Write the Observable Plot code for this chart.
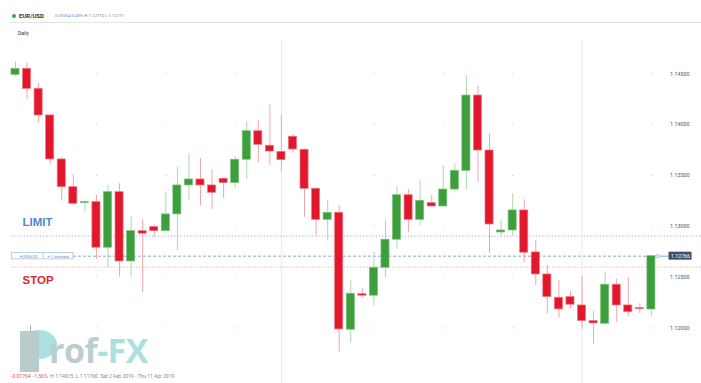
<!DOCTYPE html>
<html><head><meta charset="utf-8">
<script src="https://cdn.jsdelivr.net/npm/d3@7"></script>
<script src="https://cdn.jsdelivr.net/npm/@observablehq/plot@0.6"></script>
<style>
html,body{margin:0;padding:0;background:#fff;}
#wrap{position:relative;width:701px;height:383px;overflow:hidden;font-family:Roboto,"Open Sans",sans-serif;}
#chart{position:absolute;left:0;top:0;}
.abs{position:absolute;white-space:nowrap;line-height:1;}
</style></head><body>
<div id="wrap">
  <div id="wm">
    <div class="abs" style="left:21px;top:330px;width:36px;height:29px;border-radius:50%;background:#abdfe0;"></div>
    <div class="abs" style="left:20px;top:331px;width:19px;height:41px;background:#b9cbcd;"></div>
    <div class="abs" style="left:30px;top:325px;width:1px;height:7px;background:#9fb3b7;"></div>
    <div class="abs" style="left:49px;top:333px;font-family:'Open Sans',sans-serif;font-weight:bold;font-size:34px;letter-spacing:-0.5px;"><span style="color:#bccdcf">rof</span><span style="color:#abdfe0">-FX</span></div>
  </div>
  <div id="chart"></div>
  <div class="abs" style="left:12px;top:14px;width:4px;height:4px;border-radius:50%;background:#3aa53a"></div>
  <div class="abs" style="left:19px;top:13px;font-size:6px;font-weight:bold;color:#333">EUR/USD</div>
  <div class="abs" style="left:55px;top:14px;font-size:4.3px;"><span style="color:#5b8fd0">0.00554</span>&nbsp;<span style="color:#5b8fd0">0.49%</span>&nbsp;<span style="color:#777">H 1.12710 L 1.12111</span></div>
  <div class="abs" style="left:10px;top:22px;width:691px;height:1px;background:#e3e3e3"></div>
  <div class="abs" style="left:18px;top:31px;font-size:5px;color:#333">Daily</div>
  <div class="abs" style="left:11px;top:374px;font-size:5px;"><span style="color:#e0505a">-0.01764&nbsp;&nbsp;-1.56%</span>&nbsp;&nbsp;<span style="color:#888">H 1.14615&nbsp;&nbsp;L 1.11760&nbsp;&nbsp;Sat 2 Feb 2019 - Thu 11 Apr 2019</span></div>
</div>
<script>
// ---- data (EUR/USD daily candles) ----
const opens  = [1.14490,1.14549,1.14352,1.14090,1.13657,1.13384,1.13227,1.13237,1.12788,1.13335,
                1.12653,1.12951,1.12991,1.12951,1.13116,1.13401,1.13460,1.13401,1.13467,1.13424,
                1.13654,1.13935,1.13792,1.13732,1.13880,1.13752,1.13368,1.13063,1.13132,1.11981,
                1.12331,1.12316,1.12591,1.12867,1.13305,1.13063,1.13227,1.13194,1.13361,1.13545,
                1.14286,1.13745,1.12938,1.12958,1.13155,1.12742,1.12525,1.12296,1.12302,1.12220,
                1.12066,1.12040,1.12424,1.12220,1.12194,1.12180];
const highs  = [1.14615,1.14604,1.14408,1.14097,1.13679,1.13509,1.13260,1.13302,1.13401,1.13418,
                1.13096,1.13063,1.13014,1.13335,1.13581,1.13713,1.13664,1.13555,1.13473,1.13686,
                1.14031,1.14040,1.14198,1.14090,1.13903,1.13760,1.13384,1.13253,1.13204,1.12466,
                1.12384,1.12745,1.13056,1.13391,1.13361,1.13450,1.13302,1.13591,1.13614,1.14483,
                1.14378,1.13910,1.13056,1.13319,1.13260,1.12860,1.12614,1.12466,1.12358,1.12505,
                1.12164,1.12548,1.12479,1.12493,1.12237,1.12710];
const lows   = [1.14473,1.14244,1.14014,1.13608,1.13246,1.13204,1.13138,1.12673,1.12587,1.12499,
                1.12499,1.12345,1.12892,1.12945,1.12761,1.13246,1.13204,1.13162,1.13270,1.13371,
                1.13457,1.13624,1.13598,1.13539,1.13719,1.13089,1.12899,1.12853,1.11760,1.11849,
                1.12296,1.12213,1.12493,1.12774,1.12941,1.13000,1.13190,1.13190,1.13335,1.13359,
                1.13427,1.12735,1.12892,1.12899,1.12640,1.12414,1.12138,1.12099,1.12188,1.11987,
                1.11836,1.12030,1.12056,1.12105,1.12138,1.12111];
const closes = [1.14549,1.14352,1.14090,1.13657,1.13384,1.13221,1.13237,1.12788,1.13335,1.12653,
                1.12951,1.12926,1.12951,1.13116,1.13401,1.13460,1.13401,1.13329,1.13424,1.13654,
                1.13935,1.13801,1.13735,1.13650,1.13755,1.13368,1.13063,1.13132,1.11984,1.12335,
                1.12316,1.12591,1.12867,1.13305,1.13063,1.13250,1.13194,1.13361,1.13545,1.14286,
                1.13745,1.13017,1.12958,1.13155,1.12739,1.12525,1.12302,1.12181,1.12227,1.12066,
                1.12043,1.12424,1.12220,1.12154,1.12184,1.12705];
const yTicks = [1.120,1.125,1.130,1.135,1.140,1.145];
const monthStarts = [23, 49];
const gridCols = [7, 13, 19, 31, 37, 43, 55];
const limitLevel = 1.12902;
const stopLevel = 1.12597;
const priceLevel = 1.12705;
const priceLabel = "1.12766";
const pnlLabel = "+US$6.00";
const sizeLabel = "+ 1 contract";

// ---- layout helpers ----
const STEP = 11.5527, X0 = 15;
const ix = p => (p - X0) / STEP;                 // pixel -> candle index
const PPX = 0.025 / 254;                         // price per pixel
const py = p => 1.145 - (p - 73.3) * PPX;        // pixel -> price

const candles = opens.map((o, i) => ({i, open: o, high: highs[i], low: lows[i], close: closes[i], up: closes[i] >= o}));
const ups = candles.filter(d => d.up), downs = candles.filter(d => !d.up);
const grid = gridCols.flatMap(c => yTicks.map(t => ({c, t})));

const G = "#3d9e3d", GS = "#79c279", GW = "#acdaac";
const R = "#e1182c", RS = "#ee7480", RW = "#f4a4ac";
const HW = 0.35;

const chart = Plot.plot({
  width: 701, height: 383, margin: 0,
  style: {background: "transparent", fontFamily: "Roboto, sans-serif"},
  x: {type: "linear", domain: [0, 55], range: [15, 650.9], axis: null},
  y: {domain: [1.12, 1.145], range: [327.3, 73.3], axis: null},
  marks: [
    Plot.ruleX(monthStarts, {x: d => d, y1: py(40), y2: py(383), stroke: "#ececec", strokeWidth: 1}),
    Plot.dot(grid, {x: "c", y: "t", r: 0.6, fill: "#c9c9c9", stroke: null}),
    Plot.ruleY([limitLevel], {x1: ix(11), x2: ix(701), stroke: "#a5a9d6", strokeDasharray: "1.2,2", strokeWidth: 1}),
    Plot.ruleY([stopLevel], {x1: ix(11), x2: ix(701), stroke: "#f5a592", strokeDasharray: "1.2,2", strokeWidth: 1}),
    Plot.ruleY([priceLevel], {x1: ix(73), x2: ix(651), stroke: "#90a6cb", strokeDasharray: "3,2", strokeWidth: 1}),
    Plot.ruleY([priceLevel], {x1: ix(651), x2: ix(668), stroke: "#90a6cb", strokeWidth: 1}),
    Plot.ruleX(ups, {x: "i", y1: "low", y2: "high", stroke: GW, strokeWidth: 1}),
    Plot.ruleX(downs, {x: "i", y1: "low", y2: "high", stroke: RW, strokeWidth: 1}),
    Plot.rect(ups, {x1: d => d.i - HW, x2: d => d.i + HW, y1: "open", y2: "close", fill: G, stroke: GS, strokeWidth: 0.7}),
    Plot.rect(downs, {x1: d => d.i - HW, x2: d => d.i + HW, y1: "open", y2: "close", fill: R, stroke: RS, strokeWidth: 0.7}),
    Plot.dot([priceLevel], {x: ix(656.7), y: d => d, r: 1.6, fill: "#fff", stroke: "#90a6cb", strokeWidth: 0.8}),
    Plot.rect([priceLevel], {x1: ix(668), x2: ix(691), y1: d => d - 4 * PPX, y2: d => d + 4 * PPX, fill: "#3e5070"}),
    Plot.text([priceLabel], {x: ix(679.5), y: priceLevel, text: d => d, fill: "#fff", fontSize: 5.2}),
    Plot.text(yTicks, {x: ix(669), y: d => d, text: d => d.toFixed(5), textAnchor: "start", fontSize: 5.4, fill: "#555"}),
    Plot.rect([priceLevel], {x1: ix(11.5), x2: ix(73), y1: d => d - 3.2 * PPX, y2: d => d + 3.2 * PPX, fill: "#fff", stroke: "#a9c0e0", strokeWidth: 0.8}),
    Plot.ruleX([ix(42.7)], {x: d => d, y1: priceLevel - 2.6 * PPX, y2: priceLevel + 2.6 * PPX, stroke: "#a9c0e0", strokeWidth: 0.8}),
    Plot.text([pnlLabel], {x: ix(28), y: priceLevel, text: d => d, fontSize: 4.2, fill: "#6f84aa"}),
    Plot.text([sizeLabel], {x: ix(57.8), y: priceLevel, text: d => d, fontSize: 4.2, fill: "#6f84aa"}),
    Plot.text(["LIMIT"], {x: ix(22), y: py(221.7), text: d => d, textAnchor: "start", fontSize: 11.5, fontWeight: "bold", fontFamily: "Liberation Sans, sans-serif", fill: "#4f87c6"}),
    Plot.text(["STOP"], {x: ix(22), y: py(280), text: d => d, textAnchor: "start", fontSize: 11.5, fontWeight: "bold", fontFamily: "Liberation Sans, sans-serif", fill: "#d62a38"})
  ]
});
document.getElementById("chart").appendChild(chart);
</script>
</body></html>
